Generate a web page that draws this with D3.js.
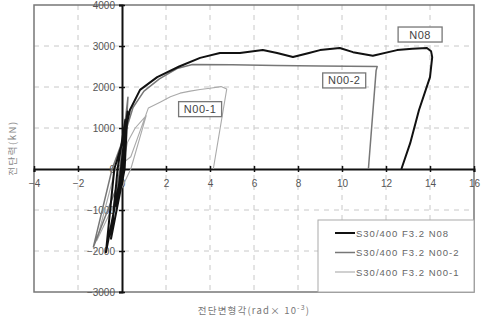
<!DOCTYPE html>
<html>
<head>
<meta charset="utf-8">
<script src="https://cdn.jsdelivr.net/npm/d3@7"></script>
<style>
  body { margin: 0; background: #fff; }
  svg { display: block; }
  .tick-label { font-family: "Liberation Sans", Arial, sans-serif; font-size: 10px; fill: #555; }
</style>
</head>
<body>
<div id="chart"></div>
<script>
// ticks
var xTicks = [-4, -2, 0, 2, 4, 6, 8, 10, 12, 14, 16];
var yTicks = [-3000, -2000, -1000, 0, 1000, 2000, 3000, 4000];

var seriesNames = ["S30/400 F3.2 N08", "S30/400 F3.2 N00-2", "S30/400 F3.2 N00-1"];
var tagNames = ["N08", "N00-2", "N00-1"];

// shear angle (rad x 10^-3), shear force (kN)
var n08 = [[0,0],[0.15,800],[0.05,0],[-0.25,-900],[-0.05,0],
    [0.25,1400],[0.12,0],[-0.5,-1700],[-0.2,0],
    [0.15,1200],[0.0,0],[-0.73,-2030],[-0.35,0],
    [0.05,700],[0.36,1440],[0.82,1930],[1.6,2240],[2.6,2500],[3.55,2710],
    [4.45,2830],[5.36,2830],[6.4,2900],[7.05,2830],[7.77,2730],[8.5,2830],
    [9,2900],[9.9,2950],[10.5,2850],[11.4,2760],[12.5,2900],[13.2,2930],
    [13.86,2950],[14.05,2870],[14.1,2730],[14,2240],[13.5,1440],[13.1,630],[12.7,0]];

var n002 = [[0,0],[0.15,800],[0.03,0],[-0.4,-1000],[-0.1,0],
    [0.27,1750],[0.08,0],[-1.3,-1900],[-0.45,0],
    [0.1,800],[0.5,1500],[1,1900],[1.7,2200],[2.5,2450],[3.2,2550],
    [5,2540],[7,2525],[9,2510],[11.6,2500],[11.55,2400],[11.2,0]];

var n001 = [[0,0],[0.25,650],[0.6,1000],[1.1,1300],[0.4,0],
    [-1.15,-1750],[-0.3,0],[0.4,300],[1.2,1490],[1.73,1630],[2.2,1760],
    [2.64,1850],[3.1,1900],[3.55,1940],[4.0,1970],[4.5,2010],[4.76,1950],[4.15,0]];

var allSeries = [n08, n002, n001];
var colors = ["#111", "#777", "#aaa"];
var widths = [2, 1.5, 1.1];

var svgwidth = 482, svgheight = 323;
var x = d3.scaleLinear().domain([-4, 16]).range([34, 474]);
var y = d3.scaleLinear().domain([-3000, 4000]).range([292, 5]);

var svg = d3.select("#chart").append("svg")
    .attr("width", svgwidth)
    .attr("height", svgheight);

// grid
svg.append("g").selectAll("line")
    .data(xTicks.filter(function(d) { return d != 0 && d != -4 && d != 16; }))
    .enter().append("line")
    .attr("x1", function(d) { return x(d); }).attr("x2", function(d) { return x(d); })
    .attr("y1", y(4000)).attr("y2", y(-3000))
    .attr("stroke", "#c8c8c8").attr("stroke-dasharray", "5,5");
svg.append("g").selectAll("line")
    .data(yTicks.filter(function(d) { return d != 0 && d != 4000 && d != -3000; }))
    .enter().append("line")
    .attr("x1", x(-4)).attr("x2", x(16))
    .attr("y1", function(d) { return y(d); }).attr("y2", function(d) { return y(d); })
    .attr("stroke", "#c8c8c8").attr("stroke-dasharray", "5,5");

// frame
svg.append("rect")
    .attr("x", x(-4)).attr("y", y(4000))
    .attr("width", x(16) - x(-4)).attr("height", y(-3000) - y(4000))
    .attr("fill", "none").attr("stroke", "#777").attr("stroke-width", 1.5);

// axes through origin
var xAxisg = svg.append("g").attr("transform", "translate(0," + y(0) + ")")
    .call(d3.axisBottom(x).tickValues(xTicks).tickSize(3).tickPadding(8).tickFormat(d3.format("d")));
var yAxisg = svg.append("g").attr("transform", "translate(" + x(0) + ",0)")
    .call(d3.axisLeft(y).tickValues(yTicks).tickSize(3).tickPadding(4).tickFormat(d3.format("d")));
[xAxisg, yAxisg].forEach(function(a) {
    a.select(".domain").attr("stroke", "#111").attr("stroke-width", 2);
    a.selectAll(".tick line").attr("stroke", "#111").attr("stroke-width", 1.5);
    a.selectAll(".tick text").attr("class", "tick-label").attr("fill", "#555");
});
xAxisg.selectAll(".tick line").attr("y1", -3);
yAxisg.selectAll(".tick line").attr("x1", 3);

// curves
var line = d3.line()
    .x(function(d) { return x(d[0]); })
    .y(function(d) { return y(d[1]); });

for (var i = allSeries.length - 1; i >= 0; i--) {
    svg.append("path")
        .datum(allSeries[i])
        .attr("d", line)
        .attr("fill", "none")
        .attr("stroke", colors[i])
        .attr("stroke-width", widths[i])
        .attr("stroke-linejoin", "round");
}

// boxed tags
var tagAt = [[13.55, 3280], [10.1, 2160], [3.55, 1460]];
tagNames.forEach(function(t, i) {
    var cx = x(tagAt[i][0]), cy = y(tagAt[i][1]);
    var w = t.length > 3 ? 43 : 44;
    svg.append("rect")
        .attr("x", cx - w / 2).attr("y", cy - 7.5)
        .attr("width", w).attr("height", 15)
        .attr("fill", "#fff").attr("stroke", "#777").attr("stroke-width", 1.3);
    svg.append("text")
        .attr("x", cx).attr("y", cy + 4)
        .attr("text-anchor", "middle")
        .style("font-family", "Liberation Sans, Arial, sans-serif")
        .style("font-size", "11px")
        .style("letter-spacing", "0.5px")
        .attr("fill", "#444")
        .text(t);
});

// legend
var lg = svg.append("g").attr("transform", "translate(318,220)");
lg.append("rect").attr("width", 156).attr("height", 72)
    .attr("fill", "#fff").attr("stroke", "#aaa").attr("stroke-width", 1);
seriesNames.forEach(function(s, i) {
    var ly = 13 + i * 19.5;
    lg.append("line").attr("x1", 17).attr("x2", 37)
        .attr("y1", ly).attr("y2", ly)
        .attr("stroke", colors[i]).attr("stroke-width", widths[i]);
    lg.append("text").attr("x", 38).attr("y", ly + 3.5)
        .style("font-family", "Liberation Sans, Arial, sans-serif")
        .style("font-size", "9.5px")
        .style("letter-spacing", "1px")
        .attr("fill", "#666")
        .text(s);
});

// axis titles
svg.append("text")
    .attr("transform", "translate(16,148) rotate(-90)")
    .attr("text-anchor", "middle")
    .style("font-family", "Noto Sans CJK KR, sans-serif")
    .style("font-size", "9.5px")
    .style("letter-spacing", "1.5px")
    .attr("fill", "#888")
    .text("전단력(kN)");
svg.append("text")
    .attr("x", 254).attr("y", 314)
    .attr("text-anchor", "middle")
    .style("font-family", "Noto Sans CJK KR, sans-serif")
    .style("font-size", "9.5px")
    .style("letter-spacing", "1.2px")
    .attr("fill", "#777")
    .text("전단변형각(rad× 10")
    .append("tspan").attr("dy", -4).style("font-size", "7px").text("-3")
    .select(function() { return this.parentNode; })
    .append("tspan").attr("dy", 4).text(")");
</script>
</body>
</html>
